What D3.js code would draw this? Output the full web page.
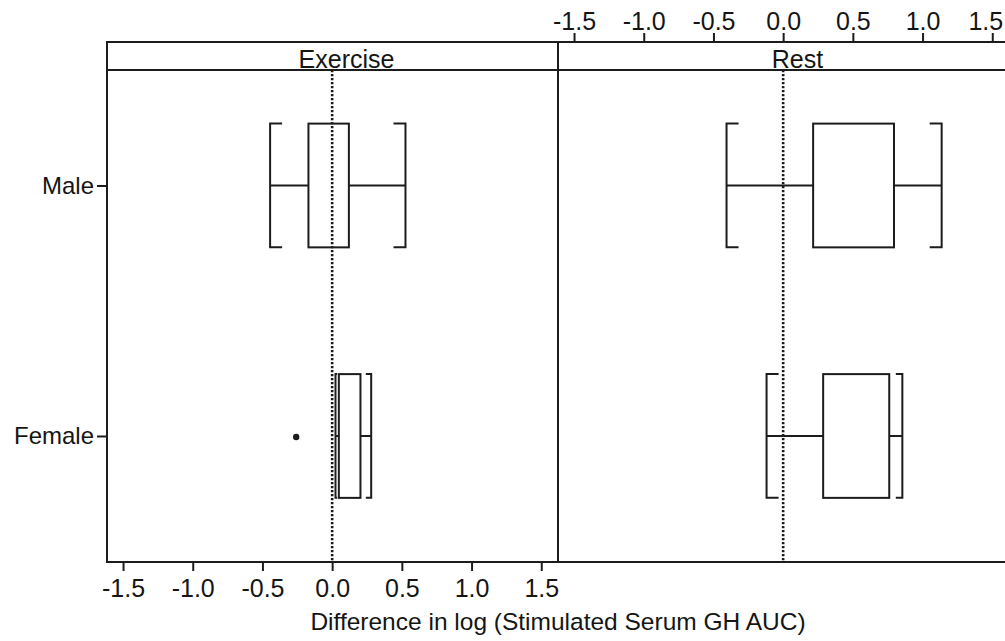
<!DOCTYPE html>
<html>
<head>
<meta charset="utf-8">
<script src="https://cdn.jsdelivr.net/npm/d3@7"></script>
<style>
    body { margin: 0; background: #fff; }
    text { font-family: "Liberation Sans", Arial, sans-serif; fill: #151515; }
</style>
</head>
<body>
<div id="chart"></div>
<script>
// Panels and groups
const panels = ["Exercise", "Rest"];
const groups = ["Female", "Male"];
const xTicks = [-1.5, -1.0, -0.5, 0.0, 0.5, 1.0, 1.5];

// Box statistics, one entry per box
const boxPanel = ["Exercise", "Exercise", "Rest", "Rest"];
const boxGroup = ["Male", "Female", "Male", "Female"];
const whiskerLow = [-0.445, 0.024, -0.406, -0.119];
const quartile1 = [-0.170, 0.048, 0.215, 0.287];
const quartile3 = [0.120, 0.203, 0.795, 0.761];
const whiskerHigh = [0.526, 0.280, 1.137, 0.855];

// Outliers
const outlierPanel = ["Exercise"];
const outlierGroup = ["Female"];
const outlierValue = [-0.258];

function createChart(container_width, container_height) {
    let svg = d3.select("#chart")
        .append("svg")
        .attr("width", container_width)
        .attr("height", container_height);

    let margin = { top: 42, left: 107, bottom: 79 };
    let stripHeight = 28;
    let panelWidth = 451;
    let plotTop = margin.top + stripHeight;
    let plotBottom = container_height - margin.bottom;
    let ink = "#1c1c1c";

    let xScales = panels.map((p, i) => d3.scaleLinear()
        .domain([-1.615, 1.62])
        .range([margin.left + i * panelWidth, margin.left + (i + 1) * panelWidth]));

    // Female = 1, Male = 2 (lattice style)
    let yScale = d3.scaleLinear()
        .domain([0.497, 2.461])
        .range([plotBottom, plotTop]);
    let yPos = g => yScale(groups.indexOf(g) + 1);
    let halfBox = yScale(0) - yScale(0.247);

    panels.forEach((p, i) => {
        let x = xScales[i];
        let x0 = x.range()[0], x1 = x.range()[1];
        let g = svg.append("g");

        // Reference line at zero
        g.append("line")
            .attr("x1", x(0)).attr("x2", x(0))
            .attr("y1", plotTop).attr("y2", plotBottom)
            .attr("stroke", ink)
            .attr("stroke-width", 2.6)
            .attr("stroke-dasharray", "2.2,1.8");

        // Panel frame and strip
        g.append("rect")
            .attr("x", x0).attr("y", margin.top)
            .attr("width", x1 - x0).attr("height", plotBottom - margin.top)
            .attr("fill", "none")
            .attr("stroke", ink)
            .attr("stroke-width", 2);
        g.append("line")
            .attr("x1", x0).attr("x2", x1)
            .attr("y1", plotTop).attr("y2", plotTop)
            .attr("stroke", ink)
            .attr("stroke-width", 2);
        g.append("text")
            .attr("x", (x0 + x1) / 2 + 14)
            .attr("y", plotTop - 2)
            .attr("text-anchor", "middle")
            .attr("font-size", "25px")
            .text(p);

        // Alternating axes: bottom on first panel, top on second
        let axis = i === 0 ? d3.axisBottom(x) : d3.axisTop(x);
        axis.tickValues(xTicks).tickSizeOuter(0).tickSize(9).tickPadding(i === 0 ? 8 : 3);
        let ag = svg.append("g")
            .attr("transform", `translate(0, ${i === 0 ? plotBottom : margin.top})`)
            .call(axis);
        ag.select(".domain").remove();
        ag.selectAll("line").attr("stroke", ink).attr("stroke-width", 2);
        ag.selectAll("text")
            .attr("font-size", "25px")
            .attr("font-family", "Liberation Sans, Arial, sans-serif")
            .attr("fill", "#151515")
            .text(d => d3.format(".1f")(d).replace("−", "-"));

        // Keep the last top label inside the page, as in the original
        if (i === panels.length - 1) {
            ag.selectAll(".tick text")
                .filter(d => d === xTicks[xTicks.length - 1])
                .attr("dx", -7);
        }
    });

    // Left axis with group names
    let yAxis = d3.axisLeft(d3.scalePoint().domain(groups).range([yPos("Female"), yPos("Male")]))
        .tickSize(10).tickSizeOuter(0).tickPadding(3);
    let yg = svg.append("g")
        .attr("transform", `translate(${margin.left}, 0)`)
        .call(yAxis);
    yg.select(".domain").remove();
    yg.selectAll("line").attr("stroke", ink).attr("stroke-width", 2);
    yg.selectAll("text")
        .attr("font-size", "24px")
        .attr("font-family", "Liberation Sans, Arial, sans-serif")
        .attr("fill", "#151515");

    // Boxes and bracket whiskers
    boxPanel.forEach((p, k) => {
        let x = xScales[panels.indexOf(p)];
        let cy = yPos(boxGroup[k]);
        let lo = x(whiskerLow[k]), q1 = x(quartile1[k]), q3 = x(quartile3[k]), hi = x(whiskerHigh[k]);
        let g = svg.append("g")
            .attr("fill", "none")
            .attr("stroke", ink)
            .attr("stroke-width", 2);

        g.append("rect")
            .attr("x", q1).attr("y", cy - halfBox)
            .attr("width", q3 - q1).attr("height", 2 * halfBox);
        g.append("line").attr("x1", lo).attr("x2", q1).attr("y1", cy).attr("y2", cy);
        g.append("line").attr("x1", q3).attr("x2", hi).attr("y1", cy).attr("y2", cy);

        // Bracket ends, serif points inward
        let serifLo = Math.min(12, (q1 - lo) / 2);
        let serifHi = Math.min(12, (hi - q3) / 2);
        g.append("path")
            .attr("d", `M${lo + serifLo},${cy - halfBox}H${lo}V${cy + halfBox}H${lo + serifLo}`);
        g.append("path")
            .attr("d", `M${hi - serifHi},${cy - halfBox}H${hi}V${cy + halfBox}H${hi - serifHi}`);
    });

    // Outlier points
    outlierValue.forEach((v, k) => {
        let x = xScales[panels.indexOf(outlierPanel[k])];
        svg.append("circle")
            .attr("cx", x(v))
            .attr("cy", yPos(outlierGroup[k]) + 1)
            .attr("r", 3.2)
            .attr("fill", ink);
    });

    // Axis title
    svg.append("text")
        .attr("x", margin.left + panelWidth)
        .attr("y", 630)
        .attr("text-anchor", "middle")
        .attr("font-size", "24.5px")
        .text("Difference in log (Stimulated Serum GH AUC)");
}

createChart(1005, 641);
</script>
</body>
</html>
